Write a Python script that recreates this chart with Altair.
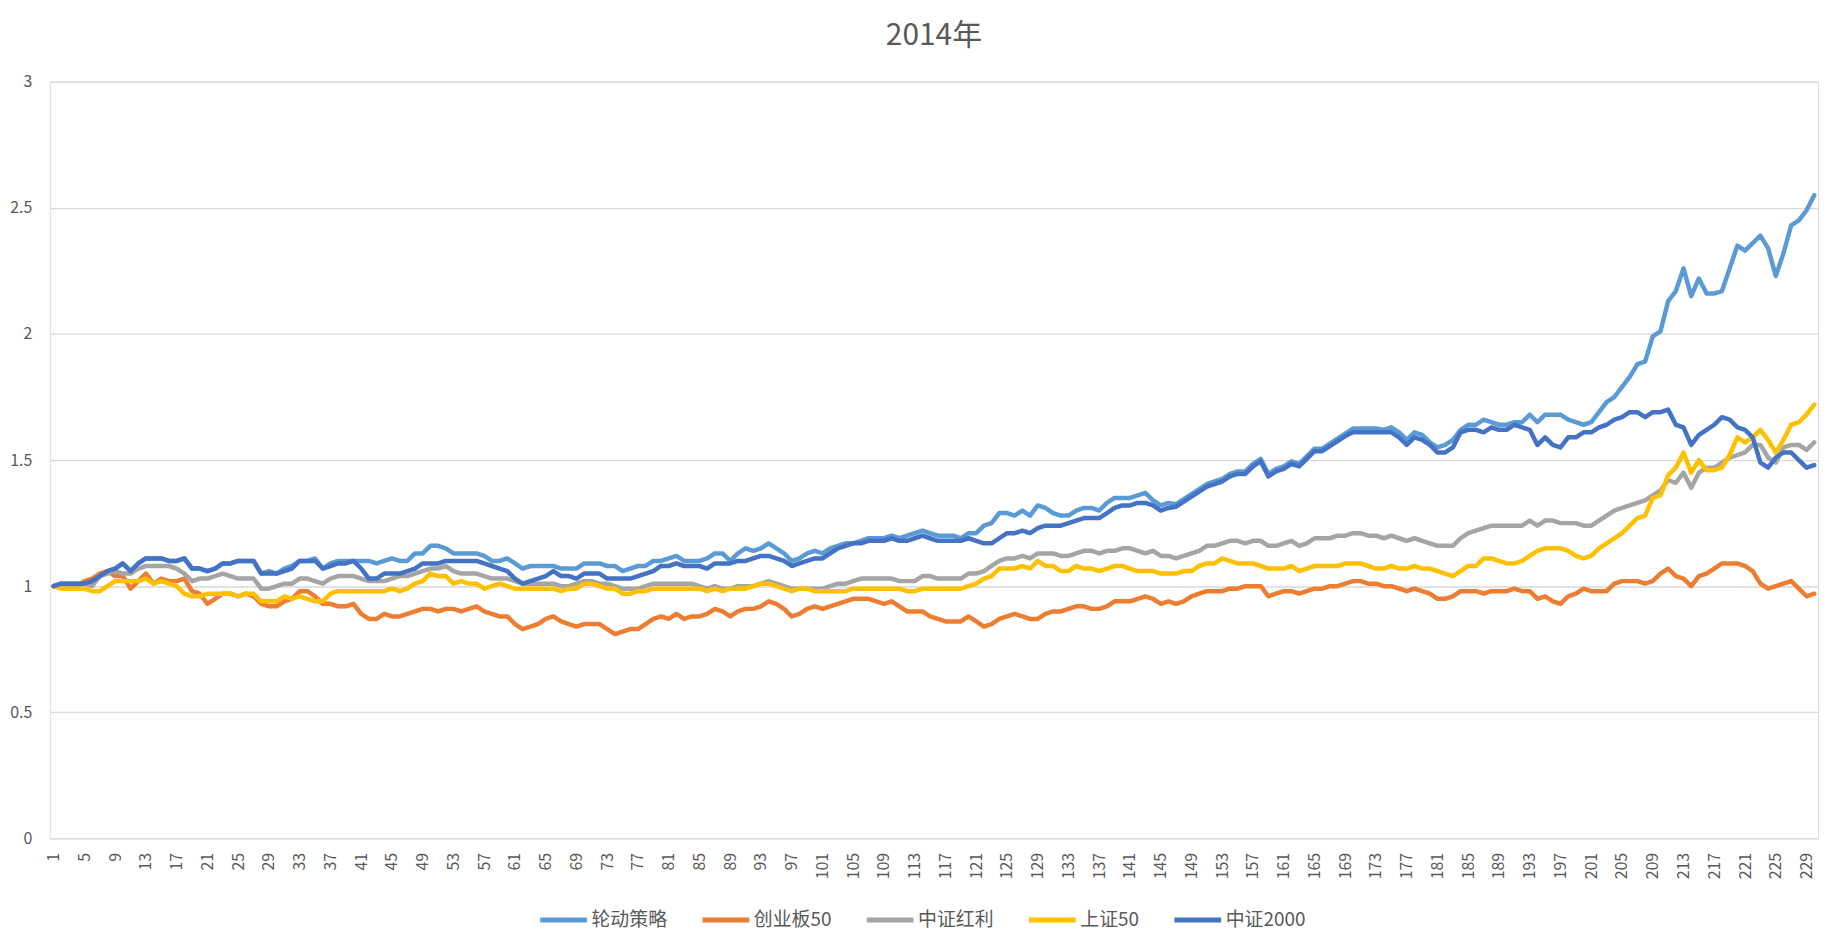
import altair as alt
import pandas as pd

series_names = ["轮动策略", "创业板50", "中证红利", "上证50", "中证2000"]
series_colors = ["#5B9BD5", "#ED7D31", "#A5A5A5", "#FFC000", "#4472C4"]

lunDong = [
    1.00, 1.01, 1.01, 1.01, 1.01, 1.02, 1.04, 1.06, 1.07, 1.09,
    1.06, 1.09, 1.11, 1.11, 1.11, 1.10, 1.10, 1.11, 1.07, 1.07,
    1.06, 1.07, 1.09, 1.09, 1.10, 1.10, 1.10, 1.05, 1.06, 1.05,
    1.07, 1.08, 1.10, 1.10, 1.11, 1.07, 1.09, 1.10, 1.10, 1.10,
    1.10, 1.10, 1.09, 1.10, 1.11, 1.10, 1.10, 1.13, 1.13, 1.16,
    1.16, 1.15, 1.13, 1.13, 1.13, 1.13, 1.12, 1.10, 1.10, 1.11,
    1.09, 1.07, 1.08, 1.08, 1.08, 1.08, 1.07, 1.07, 1.07, 1.09,
    1.09, 1.09, 1.08, 1.08, 1.06, 1.07, 1.08, 1.08, 1.10, 1.10,
    1.11, 1.12, 1.10, 1.10, 1.10, 1.11, 1.13, 1.13, 1.10, 1.13,
    1.15, 1.14, 1.15, 1.17, 1.15, 1.13, 1.10, 1.11, 1.13, 1.14,
    1.13, 1.15, 1.16, 1.17, 1.17, 1.18, 1.19, 1.19, 1.19, 1.20,
    1.19, 1.20, 1.21, 1.22, 1.21, 1.20, 1.20, 1.20, 1.19, 1.21,
    1.21, 1.24, 1.25, 1.29, 1.29, 1.28, 1.30, 1.28, 1.32, 1.31,
    1.29, 1.28, 1.28, 1.30, 1.31, 1.31, 1.30, 1.33, 1.35, 1.35,
    1.35, 1.36, 1.37, 1.34, 1.32, 1.33, 1.325, 1.345, 1.365, 1.385,
    1.405, 1.415, 1.425, 1.445, 1.455, 1.455, 1.485, 1.505, 1.445, 1.465,
    1.475, 1.495, 1.485, 1.515, 1.545, 1.545, 1.565, 1.585, 1.605, 1.625,
    1.625, 1.625, 1.625, 1.62, 1.63, 1.61, 1.58, 1.61, 1.60, 1.57,
    1.55, 1.56, 1.58, 1.62, 1.64, 1.64, 1.66, 1.65, 1.64, 1.64,
    1.65, 1.65, 1.68, 1.65, 1.68, 1.68, 1.68, 1.66, 1.65, 1.64,
    1.65, 1.69, 1.73, 1.75, 1.79, 1.83, 1.88, 1.89, 1.99, 2.01,
    2.13, 2.17, 2.26, 2.15, 2.22, 2.16, 2.16, 2.17, 2.26, 2.35,
    2.33, 2.36, 2.39, 2.34, 2.23, 2.32, 2.43, 2.45, 2.49, 2.55,
]

chuangYe50 = [
    1.00, 1.01, 1.00, 1.00, 1.02, 1.03, 1.05, 1.06, 1.04, 1.04,
    0.99, 1.02, 1.05, 1.01, 1.03, 1.02, 1.02, 1.03, 0.98, 0.97,
    0.93, 0.95, 0.97, 0.97, 0.96, 0.97, 0.96, 0.93, 0.92, 0.92,
    0.94, 0.95, 0.98, 0.98, 0.96, 0.93, 0.93, 0.92, 0.92, 0.93,
    0.89, 0.87, 0.87, 0.89, 0.88, 0.88, 0.89, 0.90, 0.91, 0.91,
    0.90, 0.91, 0.91, 0.90, 0.91, 0.92, 0.90, 0.89, 0.88, 0.88,
    0.85, 0.83, 0.84, 0.85, 0.87, 0.88, 0.86, 0.85, 0.84, 0.85,
    0.85, 0.85, 0.83, 0.81, 0.82, 0.83, 0.83, 0.85, 0.87, 0.88,
    0.87, 0.89, 0.87, 0.88, 0.88, 0.89, 0.91, 0.90, 0.88, 0.90,
    0.91, 0.91, 0.92, 0.94, 0.93, 0.91, 0.88, 0.89, 0.91, 0.92,
    0.91, 0.92, 0.93, 0.94, 0.95, 0.95, 0.95, 0.94, 0.93, 0.94,
    0.92, 0.90, 0.90, 0.90, 0.88, 0.87, 0.86, 0.86, 0.86, 0.88,
    0.86, 0.84, 0.85, 0.87, 0.88, 0.89, 0.88, 0.87, 0.87, 0.89,
    0.90, 0.90, 0.91, 0.92, 0.92, 0.91, 0.91, 0.92, 0.94, 0.94,
    0.94, 0.95, 0.96, 0.95, 0.93, 0.94, 0.93, 0.94, 0.96, 0.97,
    0.98, 0.98, 0.98, 0.99, 0.99, 1.00, 1.00, 1.00, 0.96, 0.97,
    0.98, 0.98, 0.97, 0.98, 0.99, 0.99, 1.00, 1.00, 1.01, 1.02,
    1.02, 1.01, 1.01, 1.00, 1.00, 0.99, 0.98, 0.99, 0.98, 0.97,
    0.95, 0.95, 0.96, 0.98, 0.98, 0.98, 0.97, 0.98, 0.98, 0.98,
    0.99, 0.98, 0.98, 0.95, 0.96, 0.94, 0.93, 0.96, 0.97, 0.99,
    0.98, 0.98, 0.98, 1.01, 1.02, 1.02, 1.02, 1.01, 1.02, 1.05,
    1.07, 1.04, 1.03, 1.00, 1.04, 1.05, 1.07, 1.09, 1.09, 1.09,
    1.08, 1.06, 1.01, 0.99, 1.00, 1.01, 1.02, 0.99, 0.96, 0.97,
]

zhongZhengHongLi = [
    1.00, 1.01, 1.00, 1.00, 1.01, 1.00, 1.04, 1.05, 1.06, 1.05,
    1.05, 1.07, 1.08, 1.08, 1.08, 1.08, 1.07, 1.05, 1.02, 1.03,
    1.03, 1.04, 1.05, 1.04, 1.03, 1.03, 1.03, 0.99, 0.99, 1.00,
    1.01, 1.01, 1.03, 1.03, 1.02, 1.01, 1.03, 1.04, 1.04, 1.04,
    1.03, 1.02, 1.02, 1.02, 1.03, 1.04, 1.04, 1.05, 1.06, 1.07,
    1.07, 1.08, 1.06, 1.05, 1.05, 1.05, 1.04, 1.03, 1.03, 1.03,
    1.02, 1.01, 1.01, 1.01, 1.01, 1.01, 1.00, 1.00, 1.01, 1.02,
    1.02, 1.01, 1.01, 1.00, 0.99, 0.99, 0.99, 1.00, 1.01, 1.01,
    1.01, 1.01, 1.01, 1.01, 1.00, 0.99, 1.00, 0.99, 0.99, 1.00,
    1.00, 1.00, 1.01, 1.02, 1.01, 1.00, 0.99, 0.99, 0.99, 0.99,
    0.99, 1.00, 1.01, 1.01, 1.02, 1.03, 1.03, 1.03, 1.03, 1.03,
    1.02, 1.02, 1.02, 1.04, 1.04, 1.03, 1.03, 1.03, 1.03, 1.05,
    1.05, 1.06, 1.08, 1.10, 1.11, 1.11, 1.12, 1.11, 1.13, 1.13,
    1.13, 1.12, 1.12, 1.13, 1.14, 1.14, 1.13, 1.14, 1.14, 1.15,
    1.15, 1.14, 1.13, 1.14, 1.12, 1.12, 1.11, 1.12, 1.13, 1.14,
    1.16, 1.16, 1.17, 1.18, 1.18, 1.17, 1.18, 1.18, 1.16, 1.16,
    1.17, 1.18, 1.16, 1.17, 1.19, 1.19, 1.19, 1.20, 1.20, 1.21,
    1.21, 1.20, 1.20, 1.19, 1.20, 1.19, 1.18, 1.19, 1.18, 1.17,
    1.16, 1.16, 1.16, 1.19, 1.21, 1.22, 1.23, 1.24, 1.24, 1.24,
    1.24, 1.24, 1.26, 1.24, 1.26, 1.26, 1.25, 1.25, 1.25, 1.24,
    1.24, 1.26, 1.28, 1.30, 1.31, 1.32, 1.33, 1.34, 1.36, 1.38,
    1.42, 1.41, 1.45, 1.39, 1.45, 1.47, 1.47, 1.49, 1.51, 1.52,
    1.53, 1.56, 1.56, 1.51, 1.49, 1.55, 1.56, 1.56, 1.54, 1.57,
]

shangZheng50 = [
    1.00, 0.99, 0.99, 0.99, 0.99, 0.98, 0.98, 1.00, 1.02, 1.02,
    1.02, 1.02, 1.03, 1.01, 1.02, 1.01, 1.00, 0.97, 0.96, 0.96,
    0.97, 0.97, 0.97, 0.97, 0.96, 0.97, 0.97, 0.94, 0.94, 0.94,
    0.96, 0.95, 0.96, 0.95, 0.94, 0.94, 0.97, 0.98, 0.98, 0.98,
    0.98, 0.98, 0.98, 0.98, 0.99, 0.98, 0.99, 1.01, 1.02, 1.05,
    1.04, 1.04, 1.01, 1.02, 1.01, 1.01, 0.99, 1.00, 1.01, 1.00,
    0.99, 0.99, 0.99, 0.99, 0.99, 0.99, 0.98, 0.99, 0.99, 1.01,
    1.01, 1.00, 0.99, 0.99, 0.97, 0.97, 0.98, 0.98, 0.99, 0.99,
    0.99, 0.99, 0.99, 0.99, 0.99, 0.98, 0.99, 0.98, 0.99, 0.99,
    0.99, 1.00, 1.01, 1.01, 1.00, 0.99, 0.98, 0.99, 0.99, 0.98,
    0.98, 0.98, 0.98, 0.98, 0.99, 0.99, 0.99, 0.99, 0.99, 0.99,
    0.99, 0.98, 0.98, 0.99, 0.99, 0.99, 0.99, 0.99, 0.99, 1.00,
    1.01, 1.03, 1.04, 1.07, 1.07, 1.07, 1.08, 1.07, 1.10, 1.08,
    1.08, 1.06, 1.06, 1.08, 1.07, 1.07, 1.06, 1.07, 1.08, 1.08,
    1.07, 1.06, 1.06, 1.06, 1.05, 1.05, 1.05, 1.06, 1.06, 1.08,
    1.09, 1.09, 1.11, 1.10, 1.09, 1.09, 1.09, 1.08, 1.07, 1.07,
    1.07, 1.08, 1.06, 1.07, 1.08, 1.08, 1.08, 1.08, 1.09, 1.09,
    1.09, 1.08, 1.07, 1.07, 1.08, 1.07, 1.07, 1.08, 1.07, 1.07,
    1.06, 1.05, 1.04, 1.06, 1.08, 1.08, 1.11, 1.11, 1.10, 1.09,
    1.09, 1.10, 1.12, 1.14, 1.15, 1.15, 1.15, 1.14, 1.12, 1.11,
    1.12, 1.15, 1.17, 1.19, 1.21, 1.24, 1.27, 1.28, 1.35, 1.36,
    1.44, 1.47, 1.53, 1.45, 1.50, 1.46, 1.46, 1.47, 1.52, 1.59,
    1.57, 1.59, 1.62, 1.58, 1.53, 1.58, 1.64, 1.65, 1.68, 1.72,
]

zhongZheng2000 = [
    1.00, 1.01, 1.01, 1.01, 1.01, 1.02, 1.04, 1.06, 1.07, 1.09,
    1.06, 1.09, 1.11, 1.11, 1.11, 1.10, 1.10, 1.11, 1.07, 1.07,
    1.06, 1.07, 1.09, 1.09, 1.10, 1.10, 1.10, 1.05, 1.05, 1.05,
    1.06, 1.07, 1.10, 1.10, 1.10, 1.07, 1.08, 1.09, 1.09, 1.10,
    1.07, 1.03, 1.03, 1.05, 1.05, 1.05, 1.06, 1.07, 1.09, 1.09,
    1.09, 1.10, 1.10, 1.10, 1.10, 1.10, 1.09, 1.08, 1.07, 1.06,
    1.03, 1.01, 1.02, 1.03, 1.04, 1.06, 1.04, 1.04, 1.03, 1.05,
    1.05, 1.05, 1.03, 1.03, 1.03, 1.03, 1.04, 1.05, 1.06, 1.08,
    1.08, 1.09, 1.08, 1.08, 1.08, 1.07, 1.09, 1.09, 1.09, 1.10,
    1.10, 1.11, 1.12, 1.12, 1.11, 1.10, 1.08, 1.09, 1.10, 1.11,
    1.11, 1.13, 1.15, 1.16, 1.17, 1.17, 1.18, 1.18, 1.18, 1.19,
    1.18, 1.18, 1.19, 1.20, 1.19, 1.18, 1.18, 1.18, 1.18, 1.19,
    1.18, 1.17, 1.17, 1.19, 1.21, 1.21, 1.22, 1.21, 1.23, 1.24,
    1.24, 1.24, 1.25, 1.26, 1.27, 1.27, 1.27, 1.29, 1.31, 1.32,
    1.32, 1.33, 1.33, 1.32, 1.30, 1.31, 1.315, 1.335, 1.355, 1.375,
    1.395, 1.405, 1.415, 1.435, 1.445, 1.445, 1.475, 1.495, 1.435, 1.455,
    1.465, 1.485, 1.475, 1.505, 1.535, 1.535, 1.555, 1.575, 1.595, 1.61,
    1.61, 1.61, 1.61, 1.61, 1.61, 1.59, 1.56, 1.59, 1.58, 1.56,
    1.53, 1.53, 1.55, 1.61, 1.62, 1.62, 1.61, 1.63, 1.62, 1.62,
    1.64, 1.63, 1.62, 1.56, 1.59, 1.56, 1.55, 1.59, 1.59, 1.61,
    1.61, 1.63, 1.64, 1.66, 1.67, 1.69, 1.69, 1.67, 1.69, 1.69,
    1.70, 1.64, 1.63, 1.56, 1.60, 1.62, 1.64, 1.67, 1.66, 1.63,
    1.62, 1.59, 1.49, 1.47, 1.51, 1.53, 1.53, 1.50, 1.47, 1.48,
]

x_tick_labels = list(range(1, 231, 4))
y_tick_values = [0, 0.5, 1, 1.5, 2, 2.5, 3]

all_series = [lunDong, chuangYe50, zhongZhengHongLi, shangZheng50, zhongZheng2000]
rows = []
for name, vals in zip(series_names, all_series):
    for i, v in enumerate(vals):
        rows.append({"day": i + 1, "series": name, "value": v})
df = pd.DataFrame(rows)

FONT = "Noto Sans CJK SC"
GREY = "#595959"

chart = (
    alt.Chart(df)
    .mark_line(strokeWidth=4.5, strokeJoin="round", strokeCap="round")
    .encode(
        x=alt.X(
            "day:Q",
            scale=alt.Scale(domain=[0.5, len(lunDong) + 0.5], nice=False, zero=False),
            axis=alt.Axis(
                values=x_tick_labels,
                labelAngle=-90,
                labelAlign="right",
                labelBaseline="middle",
                labelPadding=14,
                labelFontSize=16,
                labelColor=GREY,
                labelFont=FONT,
                labelOverlap=False,
                grid=False,
                domain=False,
                ticks=False,
                title=None,
            ),
        ),
        y=alt.Y(
            "value:Q",
            scale=alt.Scale(domain=[0, 3], nice=False),
            axis=alt.Axis(
                values=y_tick_values,
                format="~g",
                labelFontSize=16,
                labelColor=GREY,
                labelFont=FONT,
                labelPadding=18,
                grid=True,
                gridColor="#d9d9d9",
                gridWidth=1.3,
                domain=False,
                ticks=False,
                title=None,
            ),
        ),
        color=alt.Color(
            "series:N",
            scale=alt.Scale(domain=series_names, range=series_colors),
            sort=series_names,
            legend=alt.Legend(
                title=None,
                orient="none",
                direction="horizontal",
                legendX=490,
                legendY=816,
                symbolType="stroke",
                symbolSize=2200,
                symbolStrokeWidth=5,
                labelFontSize=19,
                labelFont=FONT,
                labelColor=GREY,
                labelOffset=2,
                columnPadding=24,
            ),
        ),
    )
    .properties(
        width=1776,
        height=760,
        title=alt.TitleParams(
            "2014年", fontSize=30, font=FONT, color=GREY, fontWeight="normal",
            anchor="middle", offset=23,
        ),
        padding={"left": 42, "top": 72, "right": 14, "bottom": 100},
        autosize=alt.AutoSizeParams(type="none"),
    )
    .configure_view(stroke=None)
    .configure(background="white")
)

chart.save("out.html", embed_options={"renderer": "svg", "actions": False})
